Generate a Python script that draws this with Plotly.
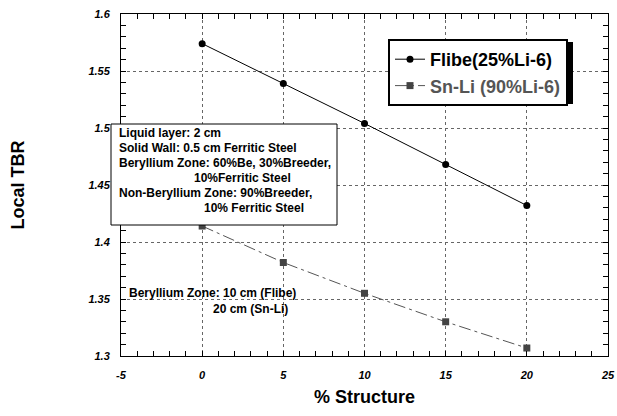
import plotly.graph_objects as go

structure = [0, 5, 10, 15, 20]
flibe_tbr = [1.574, 1.539, 1.504, 1.468, 1.432]
snli_tbr = [1.414, 1.382, 1.355, 1.330, 1.307]
x_ticks = [-5, 0, 5, 10, 15, 20, 25]
x_tick_text = ["-5", "0", "5", "10", "15", "20", "25"]
y_ticks = [1.3, 1.35, 1.4, 1.45, 1.5, 1.55, 1.6]
y_tick_text = ["1.3", "1.35", "1.4", "1.45", "1.5", "1.55", "1.6"]

W, H = 617, 416
L, R, T, B = 121, 9, 14, 60
PW, PH = W - L - R, H - T - B

def px(x):
    return (x - L) / PW

def py(y):
    return (H - B - y) / PH

FONT = "Liberation Sans, Arial, sans-serif"

fig = go.Figure()
fig.add_trace(go.Scatter(
    x=structure, y=flibe_tbr, mode="lines+markers", name="Flibe(25%Li-6)",
    line=dict(color="black", width=1),
    marker=dict(symbol="circle", size=7, color="black"),
))
fig.add_trace(go.Scatter(
    x=structure, y=snli_tbr, mode="lines+markers",
    name='<span style="color:#555555">Sn-Li (90%Li-6)</span>',
    line=dict(color="#555555", width=1, dash="12px,4px,3px,4px"),
    marker=dict(symbol="square", size=7, color="#444444"),
))

axis_common = dict(
    showline=True, linecolor="black", linewidth=1, mirror="allticks",
    ticks="inside", ticklen=5, tickcolor="black", tickwidth=1,
    showgrid=True, gridcolor="#666666", griddash="dot", gridwidth=1,
    zeroline=False, automargin=False, tickmode="array",
    tickfont=dict(family=FONT, size=11, color="black"),
)

fig.update_xaxes(
    range=[-5, 25], tickvals=x_ticks, ticktext=["<b><i>" + t + "</i></b>" for t in x_tick_text],
    minor=dict(tickmode="linear", dtick=1, tick0=0, ticks="inside", ticklen=5, tickwidth=1,
               tickcolor="black", showgrid=False),
    title=dict(text="<b>% Structure</b>", font=dict(family=FONT, size=18, color="black"), standoff=10),
    ticklabelstandoff=9,
    **axis_common,
)
fig.update_yaxes(
    range=[1.3, 1.6], tickvals=y_ticks, ticktext=["<b><i>" + t + "</i></b>" for t in y_tick_text],
    minor=dict(tickmode="linear", dtick=0.01, tick0=1.3, ticks="inside", ticklen=5, tickwidth=1,
               tickcolor="black", showgrid=False),
    title=dict(text="<b>Local TBR</b>", font=dict(family=FONT, size=18, color="black"), standoff=59),
    ticklabelstandoff=8,
    **axis_common,
)

# legend shadow
fig.add_shape(type="rect", xref="paper", yref="paper",
              x0=px(393), x1=px(573), y0=py(104), y1=py(42),
              fillcolor="black", line=dict(width=0), layer="above")

fig.update_layout(
    width=W, height=H,
    margin=dict(l=L, r=R, t=T, b=B),
    paper_bgcolor="white", plot_bgcolor="white",
    showlegend=True,
    legend=dict(
        x=px(388), y=py(39), xanchor="left", yanchor="top",
        bgcolor="white", bordercolor="black", borderwidth=2,
        font=dict(family=FONT, size=18, color="black", weight="bold"),
        itemwidth=30, tracegroupgap=0,
    ),
    font=dict(family=FONT),
)

# info box
fig.add_shape(type="rect", xref="paper", yref="paper",
              x0=px(111), x1=px(337), y0=py(225), y1=py(124),
              fillcolor="white", line=dict(color="black", width=1), layer="above")

box_lines = [
    ("Liquid layer: 2 cm", 117, 133),
    ("Solid Wall: 0.5 cm Ferritic Steel", 117, 148),
    ("Beryllium Zone: 60%Be, 30%Breeder,", 117, 163),
    ("10%Ferritic Steel", 192, 178),
    ("Non-Beryllium Zone: 90%Breeder,", 117, 193),
    ("10% Ferritic Steel", 202, 208),
]
for txt, x, y in box_lines:
    fig.add_annotation(text="<b>" + txt + "</b>", xref="paper", yref="paper", x=px(x), y=py(y),
                       xanchor="left", yanchor="middle", showarrow=False,
                       font=dict(family=FONT, size=12, color="black"))

for txt, x, y in [("Beryllium Zone: 10 cm (Flibe)", 127, 293), ("20 cm (Sn-Li)", 211, 309)]:
    fig.add_annotation(text="<b>" + txt + "</b>", xref="paper", yref="paper", x=px(x), y=py(y),
                       xanchor="left", yanchor="middle", showarrow=False,
                       font=dict(family=FONT, size=12, color="black"))

fig.write_html("out.html", config={"displayModeBar": False},
               post_script="document.body.style.margin='0';document.body.style.padding='0';")
